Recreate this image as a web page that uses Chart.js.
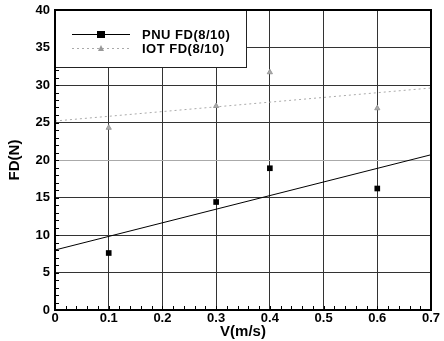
<!DOCTYPE html>
<html>
<head>
<meta charset="utf-8">
<script src="https://cdn.jsdelivr.net/npm/chart.js@4/dist/chart.umd.min.js"></script>
<style>
  html, body { margin: 0; padding: 0; background: #fff; }
  #box { width: 444px; height: 341px; }
</style>
</head>
<body>
<div id="box"><canvas id="myChart"></canvas></div>
<script>
// values
const speeds = [0.1, 0.3, 0.4, 0.6];
const pnuFD = [7.6, 14.4, 18.9, 16.2];
const iotFD = [24.3, 27.2, 31.7, 26.9];
// trend lines (end points)
const fitV = [0, 0.7];
const pnuFit = [8.0, 20.7];
const iotFit = [25.2, 29.6];
const seriesNames = ['PNU FD(8/10)', 'IOT FD(8/10)'];

const toPts = (xs, ys) => xs.map((x, i) => ({ x: x, y: ys[i] }));

// frame, minor ticks and the boxed legend in the upper left
const extras = {
  id: 'extras',
  afterDatasetsDraw(chart) {
    const ctx = chart.ctx;
    const a = chart.chartArea;
    const xs = chart.scales.x, ys = chart.scales.y;
    ctx.save();
    ctx.strokeStyle = '#000';
    ctx.lineWidth = 1;
    // minor ticks
    for (let v = 0; v <= 0.7001; v += 0.02) {
      const px = Math.round(xs.getPixelForValue(v)) + 0.5;
      ctx.beginPath(); ctx.moveTo(px, a.bottom); ctx.lineTo(px, a.bottom - 4); ctx.stroke();
    }
    for (let v = 0; v <= 40; v += 1) {
      const py = Math.round(ys.getPixelForValue(v)) + 0.5;
      ctx.beginPath(); ctx.moveTo(a.left, py); ctx.lineTo(a.left + 4, py); ctx.stroke();
    }
    // legend box
    const lx = a.left, ly = a.top, lw = 191, lh = 57;
    ctx.fillStyle = '#fff';
    ctx.fillRect(lx, ly, lw, lh);
    ctx.strokeStyle = '#222';
    ctx.strokeRect(lx + 0.5, ly + 0.5, lw, lh);
    // PNU entry
    ctx.strokeStyle = '#000';
    ctx.beginPath(); ctx.moveTo(lx + 17, ly + 24.5); ctx.lineTo(lx + 75, ly + 24.5); ctx.stroke();
    ctx.fillStyle = '#000';
    ctx.fillRect(lx + 42, ly + 21, 8, 7);
    // IOT entry
    ctx.strokeStyle = '#aaa';
    ctx.setLineDash([2, 3]);
    ctx.beginPath(); ctx.moveTo(lx + 17, ly + 38.5); ctx.lineTo(lx + 75, ly + 38.5); ctx.stroke();
    ctx.setLineDash([]);
    ctx.fillStyle = '#999';
    ctx.beginPath();
    ctx.moveTo(lx + 46, ly + 35); ctx.lineTo(lx + 49, ly + 41); ctx.lineTo(lx + 43, ly + 41);
    ctx.closePath(); ctx.fill();
    ctx.fillStyle = '#000';
    ctx.font = 'bold 13px "Liberation Sans", Arial, sans-serif';
    ctx.letterSpacing = '0.5px';
    ctx.textBaseline = 'middle';
    ctx.fillText(seriesNames[0], lx + 87, ly + 25);
    ctx.fillText(seriesNames[1], lx + 87, ly + 39);
    // thick frame
    ctx.lineWidth = 2;
    ctx.strokeStyle = '#000';
    ctx.strokeRect(a.left, a.top, a.right - a.left, a.bottom - a.top);
    ctx.restore();
  }
};

const tickFont = { family: '"Liberation Sans", Arial, sans-serif', size: 13, weight: 'bold' };
const titleFont = { family: '"Liberation Sans", Arial, sans-serif', size: 15, weight: 'bold' };

new Chart(document.getElementById('myChart'), {
  type: 'scatter',
  data: {
    datasets: [
      {
        label: seriesNames[0],
        data: toPts(speeds, pnuFD),
        pointStyle: 'rect',
        pointRadius: 4,
        backgroundColor: '#000',
        borderColor: '#000',
        borderWidth: 0
      },
      {
        label: seriesNames[1],
        data: toPts(speeds, iotFD),
        pointStyle: 'triangle',
        pointRadius: 3,
        backgroundColor: '#aaa',
        borderColor: '#999',
        borderWidth: 1
      },
      {
        label: 'PNU fit',
        type: 'line',
        data: toPts(fitV, pnuFit),
        borderColor: '#000',
        borderWidth: 1,
        pointRadius: 0,
        fill: false
      },
      {
        label: 'IOT fit',
        type: 'line',
        data: toPts(fitV, iotFit),
        borderColor: '#aaa',
        borderWidth: 1,
        borderDash: [2, 3],
        pointRadius: 0,
        fill: false
      }
    ]
  },
  options: {
    responsive: true,
    maintainAspectRatio: false,
    animation: false,
    layout: { padding: { top: 10, right: 13, left: 0, bottom: 0 } },
    plugins: { legend: { display: false }, tooltip: { enabled: false } },
    scales: {
      x: {
        type: 'linear',
        min: 0, max: 0.7,
        ticks: {
          stepSize: 0.1,
          color: '#000',
          font: tickFont,
          padding: 1,
          callback: v => (v === 0 ? '0' : v.toFixed(1))
        },
        grid: { color: '#333', lineWidth: 1, drawTicks: false },
        border: { display: false },
        title: {
          display: true, text: 'V(m/s)', color: '#000',
          font: titleFont,
          padding: { top: 0, bottom: 0 }
        },
        afterFit: s => { s.height = 31; s.paddingLeft = 0; s.paddingRight = 0; }
      },
      y: {
        min: 0, max: 40,
        ticks: { stepSize: 5, color: '#000', font: tickFont, padding: 5 },
        grid: {
          color: c => (c.tick && c.tick.value === 20 ? '#aaa' : '#333'),
          lineWidth: 1,
          drawTicks: false
        },
        border: { display: false },
        title: {
          display: true, text: 'FD(N)', color: '#000',
          font: titleFont,
          padding: { top: 6, bottom: 0 }
        },
        afterFit: s => { s.width = 55; s.paddingTop = 0; s.paddingBottom = 0; }
      }
    }
  },
  plugins: [extras]
});
</script>
</body>
</html>
